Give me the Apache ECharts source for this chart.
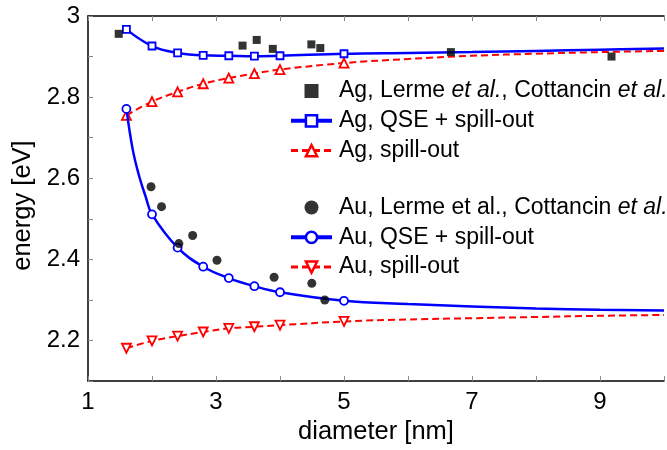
<!DOCTYPE html>
<html><head><meta charset="utf-8">
<script src="https://cdn.jsdelivr.net/npm/echarts@6/dist/echarts.min.js"></script>
<style>html,body{margin:0;padding:0;background:#fff}#c{width:667px;height:450px}</style>
</head><body><div id="c"></div>
<script>
// ---- data ----
var diam = [1.6, 2.0, 2.4, 2.8, 3.2, 3.6, 4.0, 5.0];
var agQse = [2.967, 2.926, 2.909, 2.903, 2.902, 2.901, 2.902, 2.907];
var agSpill = [2.755, 2.789, 2.813, 2.833, 2.847, 2.858, 2.868, 2.884];
var auQse = [2.771, 2.511, 2.429, 2.382, 2.354, 2.334, 2.319, 2.298];
var auSpill = [2.181, 2.199, 2.211, 2.221, 2.230, 2.234, 2.238, 2.247];
// curve continuation beyond last marker (no markers)
var tailX = [6, 7, 8, 9, 10];
var agQseTail = [2.909, 2.911, 2.914, 2.917, 2.920];
var agSpillTail = [2.894, 2.902, 2.907, 2.911, 2.914];
var auQseTail = [2.290, 2.284, 2.279, 2.276, 2.274];
var auSpillTail = [2.252, 2.255, 2.258, 2.261, 2.263];
// steep part of the Au QSE curve between first two markers (no markers)
var auQseMidX = [1.7, 1.8, 1.9];
var auQseMid = [2.670, 2.605, 2.555];
// experiments
var agExpX = [1.48, 3.415, 3.636, 3.887, 4.49, 4.63, 6.67, 9.18];
var agExpY = [2.956, 2.927, 2.941, 2.919, 2.930, 2.921, 2.911, 2.900];
var auExpX = [1.985, 2.149, 2.42, 2.635, 3.015, 3.908, 4.497, 4.70];
var auExpY = [2.579, 2.530, 2.439, 2.459, 2.398, 2.356, 2.341, 2.300];
var xTicks = [1, 3, 5, 7, 9];
var yTicks = [2.2, 2.4, 2.6, 2.8, 3];

var names = {
  agExp: 'agExp', agQse: 'Ag, QSE + spill-out', agSpill: 'Ag, spill-out',
  auExp: 'auExp', auQse: 'Au, QSE + spill-out', auSpill: 'Au, spill-out'
};

function zip(xs, ys) { return xs.map(function (x, i) { return [x, ys[i]]; }); }
function curve(main, extra) {
  var d = [];
  main.forEach(function (p) { d.push({ value: p }); });
  extra.forEach(function (p) { d.push({ value: p, symbol: 'none' }); });
  d.sort(function (a, b) { return a.value[0] - b.value[0]; });
  return d;
}

var BLUE = '#0000ff', RED = '#ff0000';
var FONT = 'Liberation Sans';

var chart = echarts.init(document.getElementById('c'), null, { renderer: 'canvas' });

var legendFmt = function (n) {
  if (n === 'agExp') return 'Ag, Lerme {i|et al.}, Cottancin {i|et al.}';
  if (n === 'auExp') return 'Au, Lerme et al., Cottancin {i|et al.}';
  return n;
};
var legendText = {
  fontFamily: FONT, fontSize: 23, color: '#000', lineHeight: 26, padding: [0, 0, 0, 2],
  rich: { i: { fontFamily: FONT, fontSize: 23, fontStyle: 'italic', color: '#000', lineHeight: 26 } }
};

chart.setOption({
  animation: false,
  textStyle: { fontFamily: FONT },
  grid: { left: 88, top: 16, right: -6, bottom: 59, containLabel: false },
  legend: [
    {
      orient: 'vertical', left: 284, top: 73, itemWidth: 41, itemHeight: 14, itemGap: 3.8,
      symbolKeepAspect: true,
      textStyle: legendText, formatter: legendFmt,
      data: [
        { name: names.agExp, icon: 'path://M0,0L10,0L10,10L0,10Z' },
        { name: names.agQse, lineStyle: { width: 4 }, itemStyle: { borderWidth: 2.5 } },
        { name: names.agSpill, lineStyle: { width: 3 }, itemStyle: { borderWidth: 2.5 } }
      ]
    },
    {
      orient: 'vertical', left: 284, top: 189.5, itemWidth: 41, itemHeight: 14, itemGap: 3.8,
      symbolKeepAspect: true,
      textStyle: legendText, formatter: legendFmt,
      data: [
        { name: names.auExp },
        { name: names.auQse, lineStyle: { width: 4 }, itemStyle: { borderWidth: 2.5 } },
        { name: names.auSpill, lineStyle: { width: 3 }, itemStyle: { borderWidth: 2.5 } }
      ]
    }
  ],
  xAxis: [
    {
      type: 'value', min: 1, max: 10, interval: 1, position: 'bottom',
      name: 'diameter [nm]', nameLocation: 'middle', nameGap: 36,
      nameTextStyle: { fontFamily: FONT, fontSize: 25.5, color: '#000' },
      axisLine: { lineStyle: { color: '#000', width: 1.5 } },
      axisTick: { inside: true, length: 5, lineStyle: { color: '#888' } },
      axisLabel: {
        fontFamily: FONT, fontSize: 24, color: '#000', margin: 9,
        formatter: function (v) { return xTicks.indexOf(v) >= 0 ? String(v) : ''; }
      },
      splitLine: { show: false }
    },
    {
      type: 'value', min: 1, max: 10, interval: 1, position: 'top',
      axisLine: { lineStyle: { color: '#000', width: 1.5 } },
      axisTick: { inside: true, length: 5, lineStyle: { color: '#888' } },
      axisLabel: { show: false }, splitLine: { show: false }
    }
  ],
  yAxis: [
    {
      type: 'value', min: 2.1, max: 3, interval: 0.1,
      name: 'energy [eV]', nameLocation: 'middle', nameGap: 47,
      nameTextStyle: { fontFamily: FONT, fontSize: 25.5, color: '#000', padding: [0, 14, 0, 0] },
      axisLine: { lineStyle: { color: '#000', width: 1.5 } },
      axisTick: { inside: true, length: 5, lineStyle: { color: '#888' } },
      axisLabel: {
        fontFamily: FONT, fontSize: 24, color: '#000', margin: 8,
        formatter: function (v) {
          var r = Math.round(v * 10) / 10;
          for (var i = 0; i < yTicks.length; i++) if (Math.abs(yTicks[i] - r) < 1e-6) return String(yTicks[i]);
          return '';
        }
      },
      splitLine: { show: false }
    }
  ],
  series: [
    {
      name: names.agExp, type: 'scatter', symbol: 'rect', symbolSize: 8,
      itemStyle: { color: '#000' }, data: zip(agExpX, agExpY), z: 5
    },
    {
      name: names.agQse, type: 'line', smooth: 0.4, symbol: 'rect', symbolSize: 7, showAllSymbol: true,
      lineStyle: { color: BLUE, width: 2.5 },
      itemStyle: { color: '#fff', borderColor: BLUE, borderWidth: 1.8 },
      data: curve(zip(diam, agQse), zip(tailX, agQseTail)), z: 4
    },
    {
      name: names.agSpill, type: 'line', smooth: 0.4, symbol: 'triangle', symbolSize: 9, showAllSymbol: true,
      lineStyle: { color: RED, width: 2, type: [7, 4] },
      itemStyle: { color: '#fff', borderColor: RED, borderWidth: 1.8 },
      data: curve(zip(diam, agSpill), zip(tailX, agSpillTail)), z: 3
    },
    {
      name: names.auExp, type: 'scatter', symbol: 'circle', symbolSize: 9,
      itemStyle: { color: '#000' }, data: zip(auExpX, auExpY), z: 5
    },
    {
      name: names.auQse, type: 'line', smooth: 0.4, symbol: 'circle', symbolSize: 8, showAllSymbol: true,
      lineStyle: { color: BLUE, width: 2.5 },
      itemStyle: { color: '#fff', borderColor: BLUE, borderWidth: 1.8 },
      data: curve(zip(diam, auQse), zip(auQseMidX, auQseMid).concat(zip(tailX, auQseTail))), z: 4
    },
    {
      name: names.auSpill, type: 'line', smooth: 0.4, symbol: 'triangle', symbolRotate: 180, symbolSize: 9, showAllSymbol: true,
      lineStyle: { color: RED, width: 2, type: [7, 4] },
      itemStyle: { color: '#fff', borderColor: RED, borderWidth: 1.8 },
      data: curve(zip(diam, auSpill), zip(tailX, auSpillTail)), z: 3
    }
  ]
});
</script></body></html>
